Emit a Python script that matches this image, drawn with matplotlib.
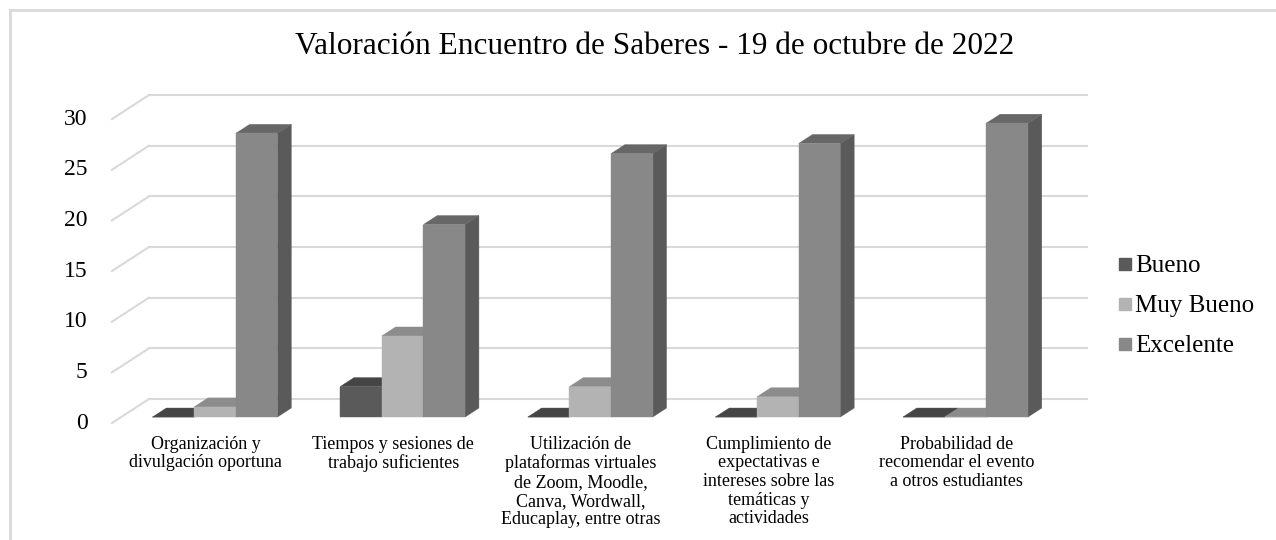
import matplotlib.pyplot as plt
from matplotlib.patches import Polygon
from matplotlib.lines import Line2D

categorias = [
    "Organización y\ndivulgación oportuna",
    "Tiempos y sesiones de\ntrabajo suficientes",
    "Utilización de\nplataformas virtuales\nde Zoom, Moodle,\nCanva, Wordwall,\nEducaplay, entre otras",
    "Cumplimiento de\nexpectativas e\nintereses sobre las\ntemáticas y\nactividades",
    "Probabilidad de\nrecomendar el evento\na otros estudiantes",
]
bueno = [0, 3, 0, 0, 0]
muy_bueno = [1, 8, 3, 2, 0]
excelente = [28, 19, 26, 27, 29]
series = ["Bueno", "Muy Bueno", "Excelente"]
ticks = [0, 5, 10, 15, 20, 25, 30]

# colores: frente, tapa, lateral
colores = {
    "Bueno": ("#5a5a5a", "#454545", "#3e3e3e"),
    "Muy Bueno": ("#b3b3b3", "#8c8c8c", "#7a7a7a"),
    "Excelente": ("#888888", "#676767", "#5a5a5a"),
}

plt.rcParams['font.family'] = ['Liberation Serif', 'DejaVu Serif']

fig = plt.figure(figsize=(12.76, 5.4), dpi=100)
ax = fig.add_axes([0.0730, 0.2072, 0.7940, 0.6285])
ax.set_xlim(-0.1, 5.3)
ax.set_ylim(-0.5, 33)
ax.axis("off")

# desplazamiento de profundidad (pared del fondo)
dx, dy = 0.197, 2.37
d0, d1 = 0.25, 0.625   # profundidad de las barras
ancho = 0.222

# pared del fondo: lineas de cuadricula
for v in ticks:
    ax.plot([0, dx], [v, v + dy], color="#d9d9d9", lw=1.5, zorder=1)
    ax.plot([dx, 5 + dx], [v + dy, v + dy], color="#d9d9d9", lw=1.5, zorder=1)
    ax.text(-0.13, v, str(v), ha="right", va="center", fontsize=17)

valores = [bueno, muy_bueno, excelente]
z = 3
for i in range(len(categorias)):
    inicio = i + 0.5 - 1.5 * ancho
    for j, s in enumerate(series):
        h = valores[j][i]
        fr, tp, sd = colores[s]
        x0 = inicio + j * ancho + d0 * dx
        x1 = x0 + ancho
        y0 = d0 * dy
        ox, oy = (d1 - d0) * dx, (d1 - d0) * dy
        # lateral
        ax.add_patch(Polygon([[x1, y0], [x1 + ox, y0 + oy], [x1 + ox, y0 + h + oy], [x1, y0 + h]],
                             closed=True, facecolor=sd, edgecolor=sd, lw=0.3, zorder=z))
        # tapa
        ax.add_patch(Polygon([[x0, y0 + h], [x0 + ox, y0 + h + oy], [x1 + ox, y0 + h + oy], [x1, y0 + h]],
                             closed=True, facecolor=tp, edgecolor=tp, lw=0.3, zorder=z))
        # frente
        ax.bar(x0, h, width=ancho, bottom=y0, align="edge", color=fr, edgecolor=fr, lw=0.3, zorder=z)
        z += 1
    ax.text(i + 0.5, -1.25, categorias[i], ha="center", va="top", fontsize=13, linespacing=1.13)

fig.text(0.513, 0.914, "Valoración Encuentro de Saberes - 19 de octubre de 2022",
         ha="center", va="center", fontsize=22.5)

# leyenda
handles = [Line2D([], [], marker="s", ls="none", markersize=9, color=colores[s][0]) for s in series]
fig.legend(handles, series, loc="center left", bbox_to_anchor=(0.856, 0.433), frameon=False,
           fontsize=18, handletextpad=0.0, labelspacing=0.7, handlelength=0.8)

# borde del grafico
fig.add_artist(Line2D([10 / 1276, 1], [1 - 10 / 540, 1 - 10 / 540], color="#d9d9d9", lw=2))
fig.add_artist(Line2D([10 / 1276, 10 / 1276], [0, 1 - 10 / 540], color="#d9d9d9", lw=2))

fig.savefig("out.png", dpi=100)
